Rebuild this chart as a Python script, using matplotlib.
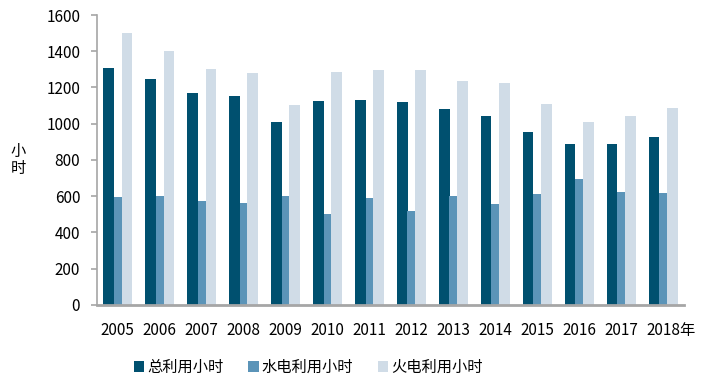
import numpy as np
import matplotlib.pyplot as plt

plt.rcParams['font.family'] = ['Noto Sans CJK SC', 'DejaVu Sans']

# data
years = ['2005', '2006', '2007', '2008', '2009', '2010', '2011',
         '2012', '2013', '2014', '2015', '2016', '2017', '2018']
total_hours = [1309, 1249, 1171, 1155, 1010, 1125, 1133,
               1118, 1080, 1041, 956, 887, 887, 925]
hydro_hours = [594, 603, 572, 565, 603, 502, 589,
               519, 603, 557, 611, 695, 625, 618]
thermal_hours = [1502, 1401, 1302, 1280, 1103, 1287, 1295,
                 1295, 1234, 1225, 1111, 1010, 1041, 1087]
series_names = ['总利用小时', '水电利用小时', '火电利用小时']

c_total = '#00506F'
c_hydro = '#5B94B8'
c_thermal = '#D0DCE7'

fig = plt.figure(figsize=(7.17, 3.85), dpi=100)
ax = fig.add_axes([0.135, 0.208, 0.819, 0.753])

x = np.arange(len(years))
ax.bar(x - 0.218, total_hours, width=0.255, color=c_total, label=series_names[0])
ax.bar(x, hydro_hours, width=0.185, color=c_hydro, label=series_names[1])
ax.bar(x + 0.22, thermal_hours, width=0.255, color=c_thermal, label=series_names[2])

ax.set_xlim(-0.5, len(years) - 0.5)
ax.set_ylim(0, 1600)
ax.set_yticks(np.arange(0, 1601, 200))
ax.set_xticks(x)
ax.set_xticklabels(years, fontsize=11)
ax.tick_params(axis='y', labelsize=11, length=4, color='#A6A6A6', width=1.2, pad=8)
ax.tick_params(axis='x', length=0, pad=12)
# the year unit follows the last label
ax.text(13.39, -0.087, '年', transform=ax.get_xaxis_transform(),
        fontsize=11, va='center', ha='left')

for s in ['top', 'right']:
    ax.spines[s].set_visible(False)
ax.spines['left'].set_color('#A6A6A6')
ax.spines['left'].set_linewidth(1.2)
ax.spines['bottom'].set_color('#A6A6A6')
ax.spines['bottom'].set_linewidth(2)

ax.set_ylabel('小\n时', rotation=0, fontsize=11, labelpad=20, va='center', linespacing=1.0)

fig.legend(loc='center', bbox_to_anchor=(0.43, 0.045), ncol=3, frameon=False,
           fontsize=11, handlelength=0.7, handleheight=0.7, handletextpad=0.2,
           columnspacing=1.6)

fig.savefig('out.png', dpi=100)
